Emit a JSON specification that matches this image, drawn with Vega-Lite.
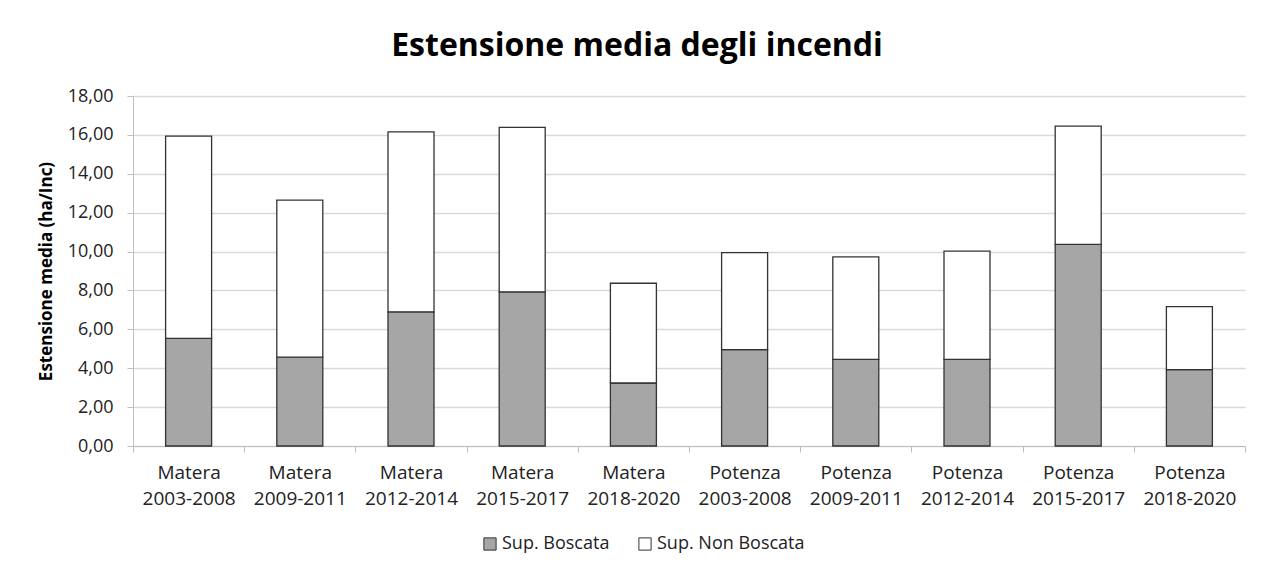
{
  "$schema": "https://vega.github.io/schema/vega-lite/v6.json",
  "autosize": {"type": "none"},
  "width": 1112,
  "height": 350,
  "padding": {"left": 133, "top": 96, "right": 21, "bottom": 124},
  "background": "white",
  "config": {"font": "Open Sans", "view": {"stroke": null}},
  "title": {
    "text": "Estensione media degli incendi",
    "fontSize": 32,
    "fontWeight": "bold",
    "font": "Open Sans",
    "color": "#000000",
    "anchor": "middle",
    "dx": -52,
    "offset": 24
  },
  "data": {
    "values": [
      {"cat": "Matera 2003-2008", "tipo": "Sup. Boscata", "valore": 5.53},
      {"cat": "Matera 2003-2008", "tipo": "Sup. Non Boscata", "valore": 10.41},
      {"cat": "Matera 2009-2011", "tipo": "Sup. Boscata", "valore": 4.57},
      {"cat": "Matera 2009-2011", "tipo": "Sup. Non Boscata", "valore": 8.08},
      {"cat": "Matera 2012-2014", "tipo": "Sup. Boscata", "valore": 6.90},
      {"cat": "Matera 2012-2014", "tipo": "Sup. Non Boscata", "valore": 9.26},
      {"cat": "Matera 2015-2017", "tipo": "Sup. Boscata", "valore": 7.93},
      {"cat": "Matera 2015-2017", "tipo": "Sup. Non Boscata", "valore": 8.46},
      {"cat": "Matera 2018-2020", "tipo": "Sup. Boscata", "valore": 3.24},
      {"cat": "Matera 2018-2020", "tipo": "Sup. Non Boscata", "valore": 5.13},
      {"cat": "Potenza 2003-2008", "tipo": "Sup. Boscata", "valore": 4.96},
      {"cat": "Potenza 2003-2008", "tipo": "Sup. Non Boscata", "valore": 4.99},
      {"cat": "Potenza 2009-2011", "tipo": "Sup. Boscata", "valore": 4.45},
      {"cat": "Potenza 2009-2011", "tipo": "Sup. Non Boscata", "valore": 5.28},
      {"cat": "Potenza 2012-2014", "tipo": "Sup. Boscata", "valore": 4.45},
      {"cat": "Potenza 2012-2014", "tipo": "Sup. Non Boscata", "valore": 5.57},
      {"cat": "Potenza 2015-2017", "tipo": "Sup. Boscata", "valore": 10.37},
      {"cat": "Potenza 2015-2017", "tipo": "Sup. Non Boscata", "valore": 6.08},
      {"cat": "Potenza 2018-2020", "tipo": "Sup. Boscata", "valore": 3.93},
      {"cat": "Potenza 2018-2020", "tipo": "Sup. Non Boscata", "valore": 3.24}
    ]
  },
  "mark": {"type": "bar", "size": 46, "stroke": "#333333", "strokeWidth": 1.3},
  "encoding": {
    "x": {
      "field": "cat",
      "type": "nominal",
      "sort": null,
      "scale": {"paddingInner": 0, "paddingOuter": 0},
      "axis": {
        "title": null,
        "labelAngle": 0,
        "labelExpr": "isValid(datum.value) ? split(datum.value, ' ') : ''",
        "labelFontSize": 19,
        "labelLineHeight": 26,
        "labelColor": "#222222",
        "labelPadding": 11,
        "tickBand": "extent",
        "tickSize": 6,
        "tickColor": "#bfbfbf",
        "domainColor": "#bfbfbf",
        "grid": false
      }
    },
    "y": {
      "field": "valore",
      "type": "quantitative",
      "stack": "zero",
      "scale": {"domain": [0, 18], "nice": false},
      "axis": {
        "title": "Estensione media (ha/Inc)",
        "titleFontSize": 17,
        "titleFontWeight": "bold",
        "titleColor": "#000000",
        "titlePadding": 12,
        "values": [0, 2, 4, 6, 8, 10, 12, 14, 16, 18],
        "labelExpr": "replace(format(datum.value, '.2f'), '.', ',')",
        "labelFontSize": 18,
        "labelColor": "#222222",
        "labelPadding": 14,
        "tickSize": 6,
        "tickColor": "#bfbfbf",
        "domainColor": "#bfbfbf",
        "gridColor": "#d9d9d9",
        "gridWidth": 1.3
      }
    },
    "color": {
      "field": "tipo",
      "type": "nominal",
      "scale": {"domain": ["Sup. Boscata", "Sup. Non Boscata"], "range": ["#a6a6a6", "#ffffff"]},
      "legend": {
        "title": null,
        "orient": "none",
        "direction": "horizontal",
        "legendX": 348,
        "legendY": 439,
        "symbolType": "square",
        "symbolSize": 150,
        "symbolStrokeColor": "#333333",
        "symbolStrokeWidth": 1,
        "labelFontSize": 18,
        "labelColor": "#222222",
        "labelOffset": 3,
        "columnPadding": 26
      }
    },
    "order": {"field": "tipo", "sort": "ascending"}
  }
}
